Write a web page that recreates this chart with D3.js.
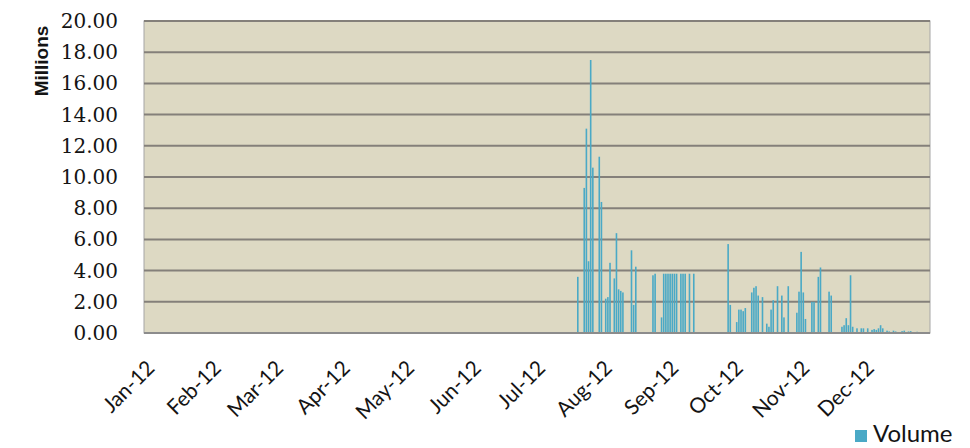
<!DOCTYPE html>
<html>
<head>
<meta charset="utf-8">
<script src="https://cdn.jsdelivr.net/npm/d3@7"></script>
<style>
  html, body { margin: 0; padding: 0; background: #ffffff; }
  svg { display: block; }
</style>
</head>
<body>
<svg id="chart" width="970" height="448"></svg>
<script>
// ---- data (volume in millions) ----
const dates = [
  "2012-07-21","2012-07-24","2012-07-25","2012-07-26","2012-07-27","2012-07-28","2012-07-31",
  "2012-08-01","2012-08-03","2012-08-04","2012-08-05","2012-08-07","2012-08-08","2012-08-09",
  "2012-08-10","2012-08-11","2012-08-15","2012-08-16","2012-08-17","2012-08-25","2012-08-26",
  "2012-08-29","2012-08-30","2012-08-31","2012-09-01","2012-09-02","2012-09-03","2012-09-04",
  "2012-09-05","2012-09-07","2012-09-08","2012-09-09","2012-09-11","2012-09-13","2012-09-29",
  "2012-09-30","2012-10-03","2012-10-04","2012-10-05","2012-10-06","2012-10-07","2012-10-10",
  "2012-10-11","2012-10-12","2012-10-13","2012-10-15","2012-10-17","2012-10-18","2012-10-19",
  "2012-10-20","2012-10-22","2012-10-24","2012-10-25","2012-10-27","2012-10-31","2012-11-01",
  "2012-11-02","2012-11-03","2012-11-04","2012-11-07","2012-11-08","2012-11-10","2012-11-11",
  "2012-11-15","2012-11-16","2012-11-21","2012-11-22","2012-11-23","2012-11-24","2012-11-25",
  "2012-11-26","2012-11-28","2012-11-30","2012-12-01","2012-12-03","2012-12-05","2012-12-06",
  "2012-12-07","2012-12-08","2012-12-09","2012-12-10","2012-12-12","2012-12-13","2012-12-15",
  "2012-12-16","2012-12-19","2012-12-20","2012-12-22","2012-12-23","2012-12-26"
];
const volumes = [
  3.6, 9.3, 13.1, 4.6, 17.5, 10.6, 11.3,
  8.4, 2.2, 2.3, 4.5, 3.5, 6.4, 2.8,
  2.7, 2.6, 5.3, 1.8, 4.25, 3.7, 3.8,
  1.0, 3.8, 3.8, 3.8, 3.8, 3.8, 3.8,
  3.8, 3.8, 3.8, 3.8, 3.8, 3.8, 5.7,
  1.8, 0.7, 1.5, 1.5, 1.4, 1.6, 2.6,
  2.9, 3.0, 2.4, 2.3, 0.6, 0.4, 1.5,
  2.1, 3.0, 2.4, 1.0, 3.0, 1.3, 2.65,
  5.2, 2.6, 0.9, 2.0, 2.0, 3.6, 4.2,
  2.65, 2.4, 0.4, 0.5, 0.95, 0.5, 3.7,
  0.4, 0.3, 0.3, 0.3, 0.3, 0.2, 0.25,
  0.2, 0.3, 0.5, 0.3, 0.15, 0.1, 0.15,
  0.1, 0.12, 0.15, 0.1, 0.12, 0.08
];
const yTickValues = [0, 2, 4, 6, 8, 10, 12, 14, 16, 18, 20];
const monthLabels = ["Jan-12","Feb-12","Mar-12","Apr-12","May-12","Jun-12",
                     "Jul-12","Aug-12","Sep-12","Oct-12","Nov-12","Dec-12"];
const seriesName = "Volume";
const axisTitle = "Millions";

// ---- layout ----
const plot = { left: 144, right: 930, top: 21, bottom: 333 };
const parse = d3.timeParse("%Y-%m-%d");
const data = dates.map((d, i) => ({ date: parse(d), value: volumes[i] }));

const x = d3.scaleTime()
  .domain([new Date(2012, 0, 1), new Date(2013, 0, 1)])
  .range([plot.left, plot.right]);
const y = d3.scaleLinear()
  .domain([0, 20])
  .range([plot.bottom, plot.top]);

const svg = d3.select("#chart");
const barColor = "#4aa9c6";

// plot background
svg.append("rect")
  .attr("x", plot.left).attr("y", plot.top)
  .attr("width", plot.right - plot.left).attr("height", plot.bottom - plot.top)
  .attr("fill", "#ddd9c3")
  .attr("stroke", "#a6a6a6").attr("stroke-width", 1);

// gridlines
svg.append("g")
  .selectAll("line")
  .data(yTickValues.filter(v => v > 0))
  .join("line")
  .attr("x1", plot.left).attr("x2", plot.right)
  .attr("y1", d => y(d)).attr("y2", d => y(d))
  .attr("stroke", "#84807a").attr("stroke-width", 2);

// bars
svg.append("g")
  .selectAll("rect")
  .data(data)
  .join("rect")
  .attr("x", d => x(d.date) - 0.8)
  .attr("y", d => y(d.value))
  .attr("width", 1.6)
  .attr("height", d => y(0) - y(d.value))
  .attr("fill", barColor);

// bottom axis line
svg.append("line")
  .attr("x1", plot.left).attr("x2", plot.right)
  .attr("y1", plot.bottom).attr("y2", plot.bottom)
  .attr("stroke", "#8c8c8c").attr("stroke-width", 2);

// y axis
const yAxis = d3.axisLeft(y)
  .tickValues(yTickValues)
  .tickFormat(d3.format(".2f"))
  .tickSize(0)
  .tickPadding(0);
const yg = svg.append("g")
  .attr("transform", `translate(${plot.left - 26},0)`)
  .call(yAxis);
yg.select(".domain").remove();
yg.selectAll("text")
  .attr("font-family", "'DejaVu Serif', serif")
  .attr("font-size", 20)
  .attr("fill", "#141414");

// y axis title
svg.append("text")
  .attr("transform", "translate(48,61) rotate(-90)")
  .attr("text-anchor", "middle")
  .attr("font-family", "'Liberation Sans', Arial, sans-serif")
  .attr("font-weight", "bold")
  .attr("font-size", 19)
  .attr("fill", "#141414")
  .text(axisTitle);

// x axis (month labels)
const monthTicks = d3.timeMonth.range(new Date(2012, 0, 1), new Date(2013, 0, 1));
const xAxis = d3.axisBottom(x)
  .tickValues(monthTicks)
  .tickFormat((d, i) => monthLabels[i])
  .tickSize(0);
const xg = svg.append("g")
  .attr("transform", `translate(0,${plot.bottom})`)
  .call(xAxis);
xg.select(".domain").remove();
xg.selectAll("text")
  .attr("font-family", "Lato, 'Open Sans', sans-serif")
  .attr("font-size", 21)
  .attr("fill", "#141414")
  .attr("text-anchor", "end")
  .attr("dy", 0)
  .attr("transform", "translate(5,30) rotate(-45)")
  .attr("y", 9);

// legend
const lg = svg.append("g").attr("transform", "translate(855,430)");
lg.append("rect").attr("x", 0).attr("y", 0).attr("width", 12).attr("height", 12).attr("fill", barColor);
lg.append("text")
  .attr("x", 18).attr("y", 12)
  .attr("font-family", "Lato, 'Open Sans', sans-serif")
  .attr("font-size", 24)
  .attr("fill", "#141414")
  .text(seriesName);
</script>
</body>
</html>
